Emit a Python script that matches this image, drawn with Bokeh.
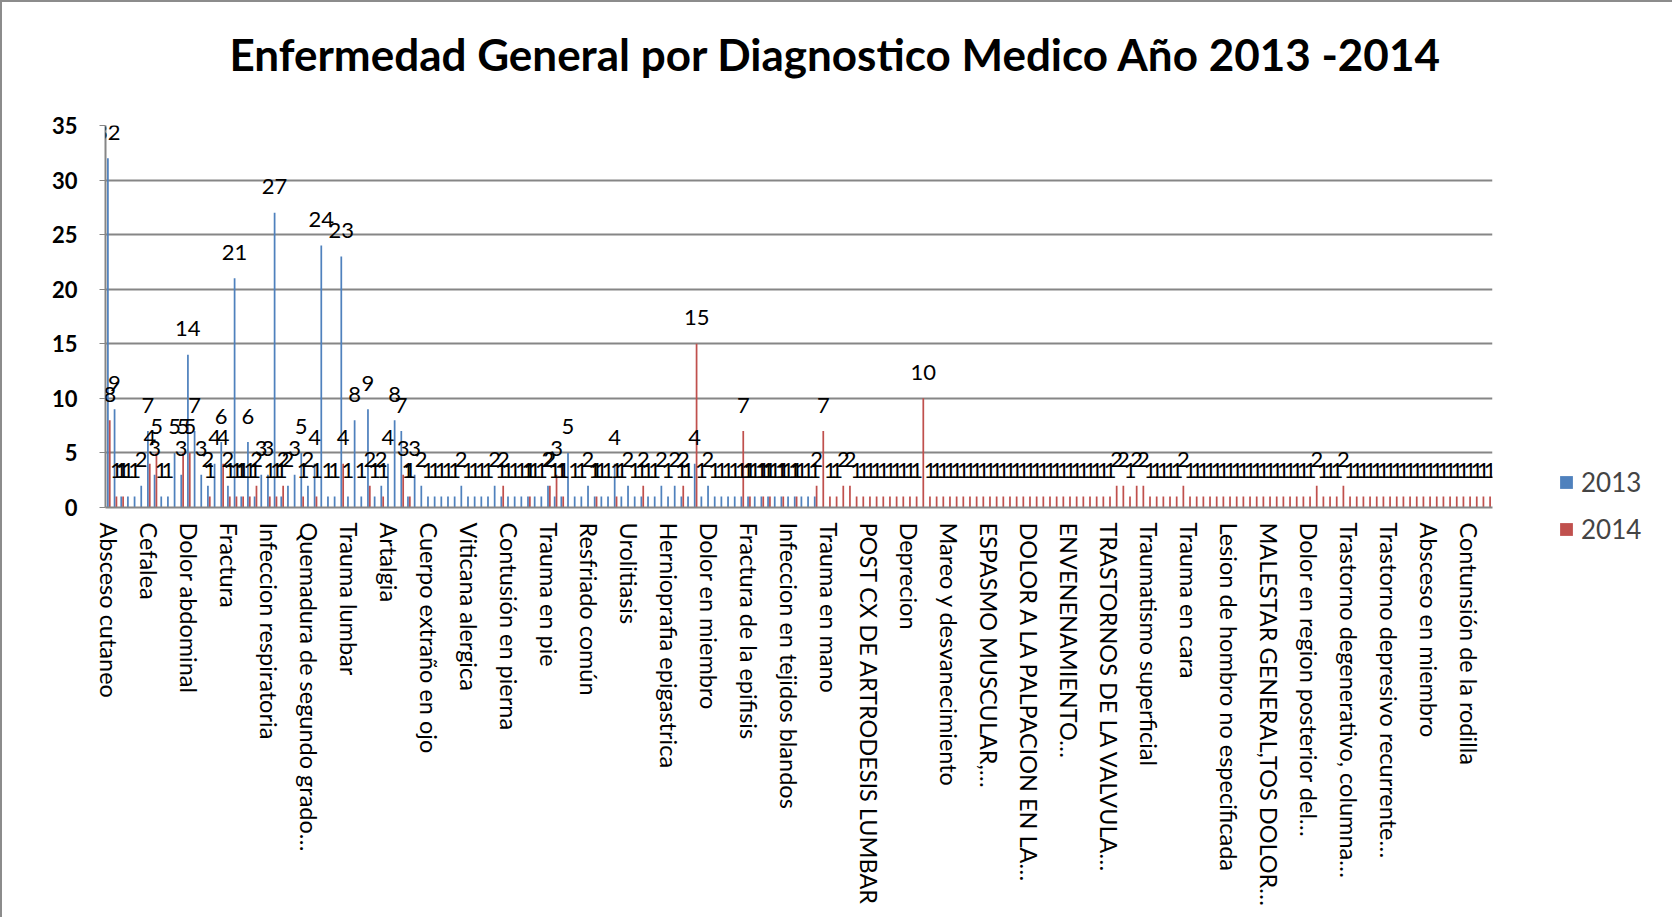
from bokeh.plotting import figure
from bokeh.models import (ColumnDataSource, Range1d, FixedTicker, LabelSet,
                          Legend, LegendItem, Title)
from bokeh.core.properties import value
from bokeh.transform import dodge
from bokeh.embed import file_html
from bokeh.resources import INLINE

titulo = "Enfermedad General por Diagnostico Medico Año 2013 -2014"
series = ["2013", "2014"]
colores = ["#4F81BD", "#C0504D"]

# one visible axis label every 6 categories
paso_etiquetas = 6
diagnosticos_visibles = [
    "Absceso cutaneo", "Cefalea", "Dolor abdominal", "Fractura",
    "Infeccion respiratoria", "Quemadura de segundo grado…", "Trauma lumbar",
    "Artalgia", "Cuerpo extraño en ojo", "Viticana alergica",
    "Contusión en pierna", "Trauma en pie", "Resfriado común", "Urolitiasis",
    "Hernioprafia epigastrica", "Dolor en miembro", "Fractura de la epifisis",
    "Infeccion en tejidos  blandos", "Trauma en mano",
    "POST CX DE ARTRODESIS LUMBAR", "Deprecion", "Mareo y desvanecimiento",
    "ESPASMO MUSCULAR,…", "DOLOR A LA PALPACION EN LA…", "ENVENENAMIENTO…",
    "TRASTORNOS DE LA VALVULA…", "Traumatismo superficial", "Trauma en cara",
    "Lesion de hombro no especificada", "MALESTAR GENERAL,TOS DOLOR…",
    "Dolor en region posterior del…", "Trastorno degenerativo, columna…",
    "Trastorno depresivo recurrente…", "Absceso en miembro",
    "Contunsión de la rodilla",
]

casos_2013 = [
    32, 9, 1, 1, 1, 2, 7, 3, 1, 1,
    5, 3, 14, 7, 3, 2, 4, 6, 2, 21,
    1, 6, 1, 3, 3, 27, 1, 2, 3, 5,
    2, 4, 24, 1, 1, 23, 1, 8, 1, 9,
    1, 2, 4, 8, 7, 1, 3, 2, 1, 1,
    1, 1, 1, 2, 1, 1, 1, 1, 2, 1,
    1, 1, 1, 1, 1, 1, 2, 1, 1, 5,
    1, 1, 2, 1, 1, 1, 4, 1, 2, 1,
    1, 1, 1, 2, 1, 2, 1, 1, 4, 1,
    2, 1, 1, 1, 1, 1, 1, 1, 1, 1,
    1, 1, 1, 1, 1, 1, 1, 0, 0, 0,
    0, 0, 0, 0, 0, 0, 0, 0, 0, 0,
    0, 0, 0, 0, 0, 0, 0, 0, 0, 0,
    0, 0, 0, 0, 0, 0, 0, 0, 0, 0,
    0, 0, 0, 0, 0, 0, 0, 0, 0, 0,
    0, 0, 0, 0, 0, 0, 0, 0, 0, 0,
    0, 0, 0, 0, 0, 0, 0, 0, 0, 0,
    0, 0, 0, 0, 0, 0, 0, 0, 0, 0,
    0, 0, 0, 0, 0, 0, 0, 0, 0, 0,
    0, 0, 0, 0, 0, 0, 0, 0, 0, 0,
    0, 0, 0, 0, 0, 0, 0, 0,
]

casos_2014 = [
    8, 1, 1, 0, 0, 0, 4, 5, 0, 0,
    0, 5, 5, 0, 0, 1, 0, 4, 1, 1,
    1, 1, 2, 0, 1, 1, 2, 0, 0, 1,
    0, 1, 0, 0, 0, 4, 0, 0, 0, 2,
    0, 1, 0, 0, 3, 1, 0, 0, 0, 0,
    0, 0, 0, 0, 0, 0, 0, 0, 0, 2,
    0, 0, 0, 1, 0, 0, 2, 3, 1, 0,
    0, 0, 0, 1, 0, 0, 1, 0, 0, 0,
    2, 0, 0, 0, 0, 0, 2, 0, 15, 0,
    0, 0, 0, 0, 0, 7, 1, 0, 1, 1,
    0, 1, 0, 1, 0, 0, 2, 7, 1, 1,
    2, 2, 1, 1, 1, 1, 1, 1, 1, 1,
    1, 1, 10, 1, 1, 1, 1, 1, 1, 1,
    1, 1, 1, 1, 1, 1, 1, 1, 1, 1,
    1, 1, 1, 1, 1, 1, 1, 1, 1, 1,
    1, 2, 2, 1, 2, 2, 1, 1, 1, 1,
    1, 2, 1, 1, 1, 1, 1, 1, 1, 1,
    1, 1, 1, 1, 1, 1, 1, 1, 1, 1,
    1, 2, 1, 1, 1, 2, 1, 1, 1, 1,
    1, 1, 1, 1, 1, 1, 1, 1, 1, 1,
    1, 1, 1, 1, 1, 1, 1, 1,
]

n = len(casos_2013)
idx = list(range(n))
src = ColumnDataSource(dict(idx=idx, c2013=casos_2013, c2014=casos_2014))

FONT = "Lato"
GRIS = "#868686"

p = figure(title=None, frame_width=1387, frame_height=382,
           x_range=Range1d(-0.5, n - 0.5), y_range=Range1d(0, 35),
           output_backend="svg", toolbar_location=None,
           min_border_left=103, min_border_top=123, min_border_right=170,
           min_border_bottom=410, background_fill_color="white",
           border_fill_color="white")
p.styles = {"border-top": "2px solid #8C8C8C", "border-left": "2px solid #8C8C8C",
            "border-right": "2px solid #8C8C8C"}

# blank spacer between the frame and the title (stacked closest to the frame)
p.add_layout(Title(text=" ", text_font_size="10px", standoff=33), "above")
p.add_layout(Title(text=titulo, align="left", offset=124, standoff=0,
                   text_font=FONT, text_font_size="44px",
                   text_font_style="bold", text_color="black"), "above")

off = 0.14
b1 = p.vbar(x=dodge("idx", -off, range=p.x_range), top="c2013", width=0.26,
            source=src, fill_color=colores[0], line_color=None)
b2 = p.vbar(x=dodge("idx", off, range=p.x_range), top="c2014", width=0.26,
            source=src, fill_color=colores[1], line_color=None)

# data labels for non-zero bars
for vals, dx in ((casos_2013, -1), (casos_2014, 1)):
    xs = [i for i, v in enumerate(vals) if v]
    ys = [v for v in vals if v]
    ls = ColumnDataSource(dict(x=xs, y=ys, t=[str(v) for v in ys]))
    p.add_layout(LabelSet(x="x", y="y", text="t", source=ls, x_offset=dx,
                          y_offset=26, text_align="center",
                          text_baseline="middle", text_font=value(FONT),
                          text_font_size=value("22px"),
                          text_color=value("black")))

legend = Legend(items=[LegendItem(label=series[0], renderers=[b1]),
                       LegendItem(label=series[1], renderers=[b2])],
                location=(66, -38), glyph_height=16, glyph_width=16,
                label_height=20, spacing=15, padding=0, margin=0,
                label_standoff=7, label_text_font=FONT,
                label_text_font_size="26px", border_line_color=None,
                background_fill_alpha=0)
p.add_layout(legend, "right")

# x axis
p.xaxis.ticker = FixedTicker(ticks=list(range(0, n, paso_etiquetas)))
p.xaxis.major_label_overrides = {i * paso_etiquetas: name
                                 for i, name in enumerate(diagnosticos_visibles)}
p.xaxis.major_label_orientation = "vertical"
p.xaxis.major_label_text_font = FONT
p.xaxis.major_label_text_font_size = "23.5px"
p.xaxis.major_label_text_color = "black"
p.xaxis.major_label_standoff = 9
p.xaxis.major_tick_line_color = None
p.xaxis.minor_tick_line_color = None
p.xaxis.axis_line_color = GRIS
p.xaxis.axis_line_width = 2

# y axis
p.yaxis.ticker = FixedTicker(ticks=[0, 5, 10, 15, 20, 25, 30, 35])
p.yaxis.major_label_text_font = FONT
p.yaxis.major_label_text_font_size = "22px"
p.yaxis.major_label_text_font_style = "bold"
p.yaxis.major_label_text_color = "black"
p.yaxis.major_label_standoff = 22
p.yaxis.major_tick_out = 6
p.yaxis.major_tick_in = 0
p.yaxis.major_tick_line_color = GRIS
p.yaxis.minor_tick_line_color = None
p.yaxis.axis_line_color = GRIS
p.yaxis.axis_line_width = 2

p.xgrid.visible = False
p.ygrid.grid_line_color = GRIS
p.ygrid.grid_line_width = 2
p.outline_line_color = None

open("out.html", "w").write(file_html(p, INLINE))
